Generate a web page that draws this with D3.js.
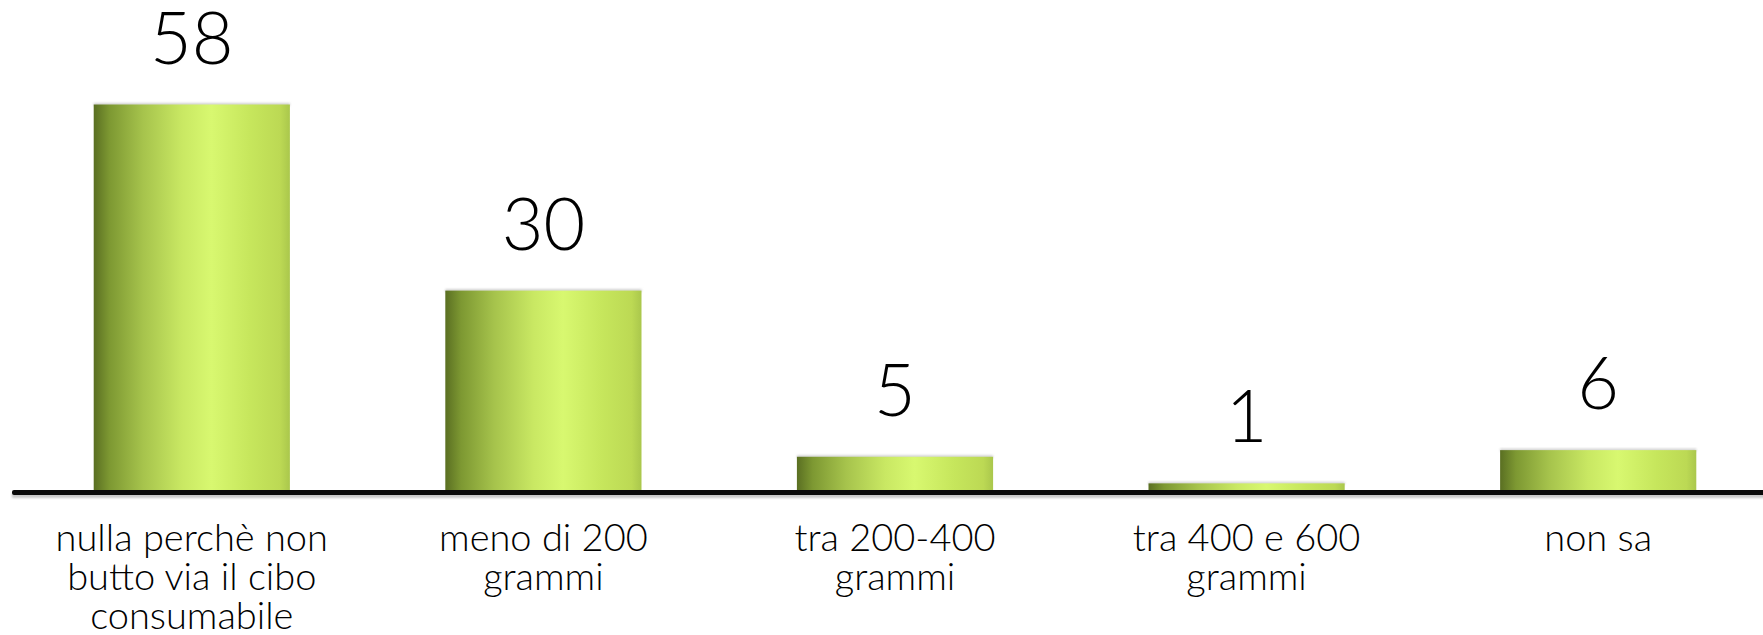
<!DOCTYPE html>
<html><head><meta charset="utf-8">
<script src="https://cdn.jsdelivr.net/npm/d3@7"></script>
<style>
html,body{margin:0;padding:0;background:#fff;}
svg{display:block;}
</style></head>
<body>
<svg id="chart" width="1763" height="635"></svg>
<script>
const categories = [
  ["nulla perchè non", "butto via il cibo", "consumabile"],
  ["meno di 200", "grammi"],
  ["tra 200-400", "grammi"],
  ["tra 400 e 600", "grammi"],
  ["non sa"]
];
const values = [58, 30, 5, 1, 6];
const valueLabels = ["58", "30", "5", "1", "6"];

const W = 1763, H = 635;
const baseY = 490;
const svg = d3.select("#chart");

const x = d3.scaleBand()
  .domain(d3.range(values.length))
  .range([16, 1774])
  .paddingInner(0.442)
  .paddingOuter(0.221);

const y = d3.scaleLinear().domain([0, 58]).range([baseY, 104.5]);

const defs = svg.append("defs");
const grad = defs.append("linearGradient").attr("id", "cyl")
  .attr("x1", "0%").attr("x2", "100%").attr("y1", "0%").attr("y2", "0%");
[[0, "#5a6f22"], [0.08, "#7d9832"], [0.25, "#a6c34c"], [0.45, "#c9e863"],
 [0.6, "#d8f870"], [0.8, "#c6e65c"], [0.95, "#bcd954"], [1, "#aac74c"]]
  .forEach(([o, c]) => grad.append("stop").attr("offset", o).attr("stop-color", c));

const blur = defs.append("filter").attr("id", "soft").attr("x", "-5%").attr("y", "-50%").attr("width", "110%").attr("height", "200%");
blur.append("feGaussianBlur").attr("stdDeviation", 1.2);

// baseline shadow
svg.append("rect").attr("x", 12).attr("y", baseY + 3).attr("width", W).attr("height", 5)
  .attr("fill", "#c8c8c8").attr("filter", "url(#soft)");

// bars
const bars = svg.append("g").selectAll("g").data(values).join("g");
bars.append("rect")
  .attr("x", (d, i) => x(i))
  .attr("y", d => y(d) - 1.5)
  .attr("width", x.bandwidth())
  .attr("height", 3)
  .attr("fill", "#d0d0d0")
  .attr("filter", "url(#soft)");
bars.append("rect")
  .attr("x", (d, i) => x(i))
  .attr("y", d => y(d))
  .attr("width", x.bandwidth())
  .attr("height", d => baseY - y(d))
  .attr("fill", "url(#cyl)");

// baseline
svg.append("rect").attr("x", 12).attr("y", baseY).attr("width", W).attr("height", 5)
  .attr("rx", 2).attr("fill", "#0a0a0a");

// value labels
svg.append("g").selectAll("text").data(values).join("text")
  .attr("x", (d, i) => x(i) + x.bandwidth() / 2)
  .attr("y", d => y(d) - 41)
  .attr("text-anchor", "middle")
  .attr("font-family", "Lato, 'DejaVu Sans', sans-serif")
  .attr("font-weight", 300)
  .attr("font-size", 72)
  .attr("fill", "#000")
  .text((d, i) => valueLabels[i]);

// category labels
const cat = svg.append("g").selectAll("text").data(categories).join("text")
  .attr("text-anchor", "middle")
  .attr("font-family", "Lato, 'DejaVu Sans', sans-serif")
  .attr("font-weight", 300)
  .attr("font-size", 38)
  .attr("fill", "#000");
cat.each(function(lines, i) {
  const t = d3.select(this);
  lines.forEach((ln, k) => {
    t.append("tspan")
      .attr("x", x(i) + x.bandwidth() / 2)
      .attr("y", 551 + k * 39)
      .text(ln);
  });
});
</script>
</body></html>
